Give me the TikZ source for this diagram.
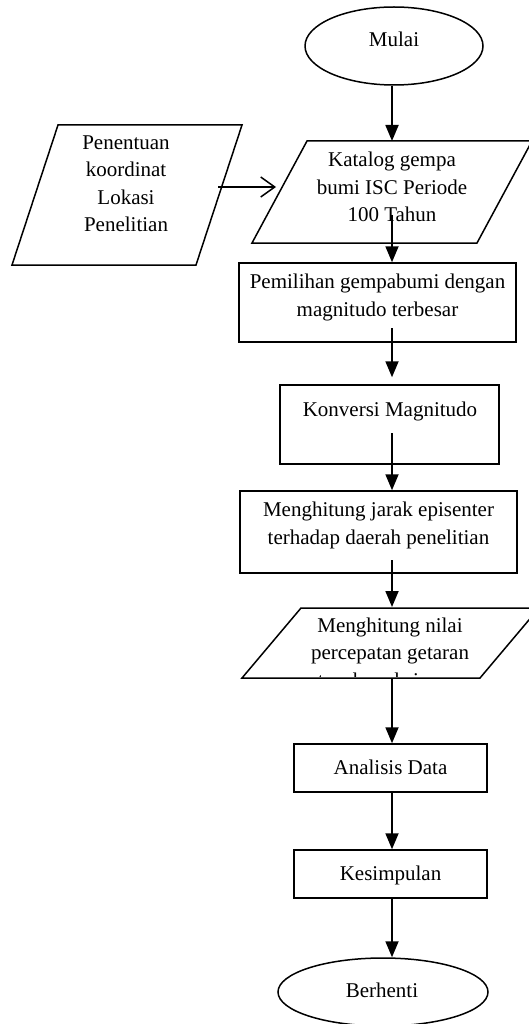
\documentclass[tikz,border=0pt]{standalone}
\usepackage{fontspec}
\setmainfont{Liberation Serif}
\usetikzlibrary{shapes.geometric,arrows.meta}
\begin{document}
\begin{tikzpicture}[x=1pt,y=-1pt,
  txt/.style={font=\fontsize{21}{27.5}\selectfont, align=center, inner sep=0pt, anchor=base},
  shapeline/.style={draw, line width=1.5pt},
  box/.style={shapeline, rectangle, inner sep=0pt},
  oval/.style={shapeline, ellipse, inner sep=0pt},
  arr/.style={-{Triangle[length=16pt,width=13pt]}, line width=1.8pt},
  openarr/.style={-{Straight Barb[length=14pt,width=20pt,line width=1.5pt]}, line width=1.5pt}
]
\useasboundingbox (0,0) rectangle (529,1024);

% Mulai
\node[oval, minimum width=178pt, minimum height=78pt] (mulai) at (394,46) {};
\node[txt] (tmulai) at (394,47) {Mulai};

% Penentuan (parallelogram)
\draw[shapeline] (58,125) -- (242,125) -- (196,265) -- (12,265) -- cycle;
\node[txt] (pen) at (126,232) {Penentuan\\koordinat\\Lokasi\\Penelitian};
\coordinate (penE) at (218,187);

% Katalog (parallelogram)
\draw[shapeline] (307,141) -- (532,141) -- (477,243) -- (252,243) -- cycle;
\node[txt] (kat) at (392,222) {Katalog gempa\\bumi ISC Periode\\100 Tahun};
\coordinate (katN) at (392,141);
\coordinate (katW) at (276,187);
\coordinate (katS) at (392,215);

% Pemilihan
\node[box, minimum width=277pt, minimum height=79pt] (pem) at (377.5,302.5) {};
\node[txt] (tpem) at (377.5,316) {Pemilihan gempabumi dengan\\magnitudo terbesar};
\coordinate (pemS) at (392,328);

% Konversi
\node[box, minimum width=219pt, minimum height=79pt] (konv) at (389.5,424.5) {};
\node[txt] (tkonv) at (390,416) {Konversi Magnitudo};
\coordinate (konvS) at (392,433);

% Jarak
\node[box, minimum width=277pt, minimum height=82pt] (jarak) at (378.5,532) {};
\node[txt] (tjarak) at (378.5,544) {Menghitung jarak episenter\\terhadap daerah penelitian};
\coordinate (jarakS) at (392,560);

% Nilai (parallelogram, text clipped)
\begin{scope}
\clip (230,600) rectangle (540,676.5);
\node[txt] (nil) at (390,687) {Menghitung nilai\\percepatan getaran\\tanah maksimum};
\end{scope}
\draw[shapeline] (301,608) -- (539,608) -- (480,678) -- (242,678) -- cycle;
\coordinate (nilN) at (392,607);
\coordinate (nilS) at (392,678);

% Analisis
\node[box, minimum width=193pt, minimum height=48pt] (anal) at (390.5,768) {};
\node[txt] (tanal) at (390.5,774) {Analisis Data};

% Kesimpulan
\node[box, minimum width=193pt, minimum height=48pt] (kes) at (390.5,874) {};
\node[txt] (tkes) at (390.5,880) {Kesimpulan};

% Berhenti
\node[oval, minimum width=210pt, minimum height=68pt] (berh) at (383,992) {};
\node[txt] (tberh) at (382,997) {Berhenti};

% connectors
\draw[arr] (mulai.south -| katN) -- (katN);
\draw[openarr] (penE) -- (katW);
\draw[arr] (katS) -- (katS |- pem.north);
\draw[arr] (pemS) -- ([yshift=7pt]konv.north -| pemS);
\draw[arr] (konvS) -- (konvS |- jarak.north);
\draw[arr] (jarakS) -- (nilN);
\draw[arr] (nilS) -- (nilS |- anal.north);
\draw[arr] (anal.south -| nilS) -- (nilS |- kes.north);
\draw[arr] (kes.south -| nilS) -- (nilS |- berh.north);
\end{tikzpicture}
\end{document}
